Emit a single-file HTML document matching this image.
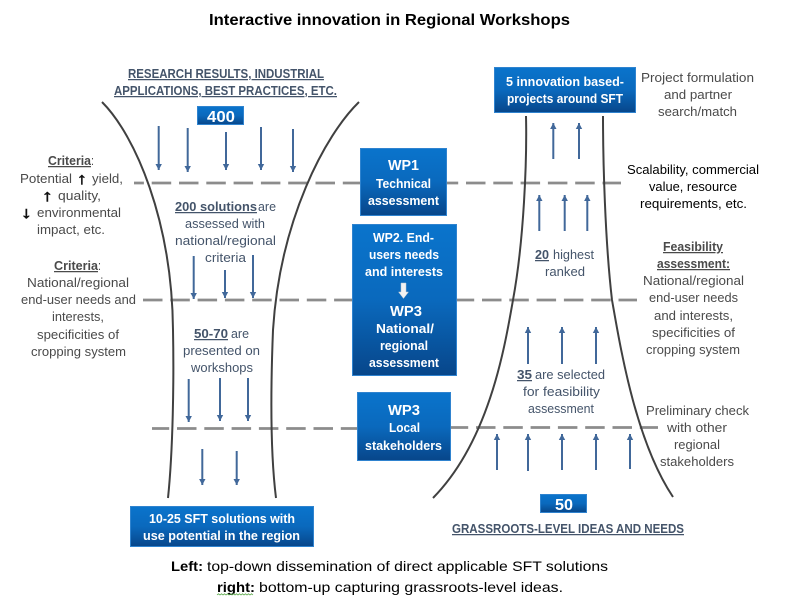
<!DOCTYPE html>
<html><head><meta charset="utf-8"><title>Interactive innovation in Regional Workshops</title>
<style>
html,body{margin:0;padding:0;background:#fff}
svg{display:block}
text{font-family:"Liberation Sans",sans-serif;font-size:12.5px;fill:#4a4a4a}
.c{fill:#44546a}
.k{fill:#000}
.b{font-weight:bold}
.u{text-decoration:underline}
.h{font-weight:bold;fill:#44546a;text-decoration:underline;font-size:12.5px}
.w{fill:#fff;font-weight:bold;font-size:12.5px}
.wl{fill:#fff;font-weight:bold;font-size:15px}
.ar{font-weight:bold;fill:#111;font-size:16px;stroke:#111;stroke-width:.6px}
</style></head><body>
<svg width="790" height="613" viewBox="0 0 790 613" xmlns="http://www.w3.org/2000/svg">
<defs>
<linearGradient id="g" x1="0" y1="0" x2="0" y2="1"><stop offset="0" stop-color="#0a74cc"/><stop offset=".5" stop-color="#0a69bd"/><stop offset="1" stop-color="#07468a"/></linearGradient>
<marker id="a" markerUnits="userSpaceOnUse" markerWidth="8" markerHeight="8" refX="6" refY="4" orient="auto"><path d="M0,0.800 L6,4 L0,7.200 Z" fill="#41689a"/></marker>
</defs>
<rect width="790" height="613" fill="#fff"/>

<g fill="none" stroke="#8c8c8c" stroke-width="2.800" stroke-dasharray="19.500 7.800">
<path d="M134,183H360" stroke-dashoffset="9.600"/>
<path d="M447,183H621" stroke-dashoffset="8.300"/>
<path d="M143,300H352"/>
<path d="M457,300H637" stroke-dashoffset="2.300"/>
<path d="M152,428.500H358" stroke-dashoffset="2.300"/>
<path d="M451,427.500H658" stroke-dashoffset="2.300"/>
</g>

<g fill="none" stroke="#404040" stroke-width="2">
<path d="M102,102C135,135 172,220 173,330C174,380 173,450 168,498"/>
<path d="M359,102C325,135 280,220 273,330C271,380 270,450 276,498"/>
<path d="M526,116C527,160 524,240 513,300C505,345 490,440 433,498"/>
<path d="M603,116C603,160 605,240 612,300C620,345 635,440 673,497"/>
</g>

<g stroke="#41689a" stroke-width="2">
<line x1="158.700" y1="126" x2="158.700" y2="170" marker-end="url(#a)"/>
<line x1="187.700" y1="128" x2="187.700" y2="172" marker-end="url(#a)"/>
<line x1="226" y1="132" x2="226" y2="170" marker-end="url(#a)"/>
<line x1="261" y1="127" x2="261" y2="170" marker-end="url(#a)"/>
<line x1="293" y1="129" x2="293" y2="172" marker-end="url(#a)"/>
<line x1="193.700" y1="256" x2="193.700" y2="299" marker-end="url(#a)"/>
<line x1="225" y1="270" x2="225" y2="298" marker-end="url(#a)"/>
<line x1="253" y1="255" x2="253" y2="298" marker-end="url(#a)"/>
<line x1="188.700" y1="379" x2="188.700" y2="422" marker-end="url(#a)"/>
<line x1="220" y1="378" x2="220" y2="421" marker-end="url(#a)"/>
<line x1="248" y1="378" x2="248" y2="421" marker-end="url(#a)"/>
<line x1="202.300" y1="449" x2="202.300" y2="485" marker-end="url(#a)"/>
<line x1="236.700" y1="451" x2="236.700" y2="485" marker-end="url(#a)"/>
<line x1="553.300" y1="159" x2="553.300" y2="123" marker-end="url(#a)"/>
<line x1="579" y1="159" x2="579" y2="123" marker-end="url(#a)"/>
<line x1="539.300" y1="231" x2="539.300" y2="195" marker-end="url(#a)"/>
<line x1="564.700" y1="231" x2="564.700" y2="195" marker-end="url(#a)"/>
<line x1="587.300" y1="231" x2="587.300" y2="195" marker-end="url(#a)"/>
<line x1="528" y1="364" x2="528" y2="327" marker-end="url(#a)"/>
<line x1="562" y1="364" x2="562" y2="327" marker-end="url(#a)"/>
<line x1="596" y1="364" x2="596" y2="327" marker-end="url(#a)"/>
<line x1="497" y1="470" x2="497" y2="434" marker-end="url(#a)"/>
<line x1="528" y1="471" x2="528" y2="434" marker-end="url(#a)"/>
<line x1="562" y1="470" x2="562" y2="434" marker-end="url(#a)"/>
<line x1="596" y1="470" x2="596" y2="434" marker-end="url(#a)"/>
<line x1="630" y1="469" x2="630" y2="434" marker-end="url(#a)"/>
</g>

<g fill="url(#g)" stroke="#2f83cf" stroke-width="1">
<rect x="360.500" y="148.500" width="86" height="67"/>
<rect x="352.500" y="224.500" width="104" height="151"/>
<rect x="357.500" y="392.500" width="93" height="68"/>
<rect x="197.500" y="106.500" width="46" height="18"/>
<rect x="494.500" y="67.500" width="141" height="45"/>
<rect x="130.500" y="506.500" width="183" height="40"/>
<rect x="540.500" y="494.500" width="46" height="18"/>
</g>
<path d="M401,283H406V292H408.500L403.500,298.500L398.500,292H401Z" fill="#f2f2f2" stroke="#b8c4d0" stroke-width=".5"/>

<text x="209" y="25" textLength="361" lengthAdjust="spacingAndGlyphs" class="k b" style="font-size:15.500px">Interactive innovation in Regional Workshops</text>

<text x="128" y="78" textLength="196" lengthAdjust="spacingAndGlyphs" class="h">RESEARCH RESULTS, INDUSTRIAL</text>
<text x="114" y="95" textLength="223" lengthAdjust="spacingAndGlyphs" class="h">APPLICATIONS, BEST PRACTICES, ETC.</text>
<text x="207" y="122" textLength="28" lengthAdjust="spacingAndGlyphs" class="wl" style="font-size:16px">400</text>

<text x="48" y="165" textLength="43" lengthAdjust="spacingAndGlyphs" class="b u">Criteria</text><text x="91" y="165" textLength="3" lengthAdjust="spacingAndGlyphs">:</text>
<text x="20" y="183" textLength="52" lengthAdjust="spacingAndGlyphs">Potential</text>
<text x="77" y="184" textLength="10" lengthAdjust="spacingAndGlyphs" class="ar">↑</text>
<text x="92" y="183" textLength="31" lengthAdjust="spacingAndGlyphs">yield,</text>
<text x="42" y="201" textLength="11" lengthAdjust="spacingAndGlyphs" class="ar">↑</text>
<text x="58" y="200" textLength="43" lengthAdjust="spacingAndGlyphs">quality,</text>
<text x="21" y="218" textLength="11" lengthAdjust="spacingAndGlyphs" class="ar">↓</text>
<text x="37" y="217" textLength="84" lengthAdjust="spacingAndGlyphs">environmental</text>
<text x="37" y="234" textLength="68" lengthAdjust="spacingAndGlyphs">impact, etc.</text>

<text x="54" y="270" textLength="44" lengthAdjust="spacingAndGlyphs" class="b u">Criteria</text><text x="98" y="270" textLength="3" lengthAdjust="spacingAndGlyphs">:</text>
<text x="27" y="287" textLength="102" lengthAdjust="spacingAndGlyphs">National/regional</text>
<text x="21" y="304" textLength="115" lengthAdjust="spacingAndGlyphs">end-user needs and</text>
<text x="52" y="321" textLength="52" lengthAdjust="spacingAndGlyphs">interests,</text>
<text x="37" y="339" textLength="82" lengthAdjust="spacingAndGlyphs">specificities of</text>
<text x="31" y="356" textLength="95" lengthAdjust="spacingAndGlyphs">cropping system</text>

<text x="175" y="211" textLength="82" lengthAdjust="spacingAndGlyphs" class="c b u">200 solutions</text>
<text x="258" y="211" textLength="18" lengthAdjust="spacingAndGlyphs" class="c">are</text>
<text x="185" y="228" textLength="80" lengthAdjust="spacingAndGlyphs" class="c">assessed with</text>
<text x="175" y="245" textLength="101" lengthAdjust="spacingAndGlyphs" class="c">national/regional</text>
<text x="205" y="262" textLength="41" lengthAdjust="spacingAndGlyphs" class="c">criteria</text>

<text x="194" y="338" textLength="34" lengthAdjust="spacingAndGlyphs" class="c b u">50-70</text>
<text x="231" y="338" textLength="18" lengthAdjust="spacingAndGlyphs" class="c">are</text>
<text x="183" y="355" textLength="77" lengthAdjust="spacingAndGlyphs" class="c">presented on</text>
<text x="191" y="372" textLength="62" lengthAdjust="spacingAndGlyphs" class="c">workshops</text>

<text x="388" y="170" textLength="31" lengthAdjust="spacingAndGlyphs" class="wl">WP1</text>
<text x="376" y="188" textLength="55" lengthAdjust="spacingAndGlyphs" class="w">Technical</text>
<text x="368" y="205" textLength="71" lengthAdjust="spacingAndGlyphs" class="w">assessment</text>

<text x="373" y="242" textLength="61" lengthAdjust="spacingAndGlyphs" class="w">WP2. End-</text>
<text x="369" y="259" textLength="70" lengthAdjust="spacingAndGlyphs" class="w">users needs</text>
<text x="365" y="276" textLength="78" lengthAdjust="spacingAndGlyphs" class="w">and interests</text>
<text x="390" y="316" textLength="32" lengthAdjust="spacingAndGlyphs" class="wl">WP3</text>
<text x="376" y="333" textLength="58" lengthAdjust="spacingAndGlyphs" class="w">National/</text>
<text x="380" y="350" textLength="48" lengthAdjust="spacingAndGlyphs" class="w">regional</text>
<text x="369" y="367" textLength="70" lengthAdjust="spacingAndGlyphs" class="w">assessment</text>

<text x="388" y="415" textLength="32" lengthAdjust="spacingAndGlyphs" class="wl">WP3</text>
<text x="389" y="432" textLength="31" lengthAdjust="spacingAndGlyphs" class="w">Local</text>
<text x="365" y="450" textLength="77" lengthAdjust="spacingAndGlyphs" class="w">stakeholders</text>

<text x="506" y="86" textLength="118" lengthAdjust="spacingAndGlyphs" class="w">5 innovation based-</text>
<text x="507" y="103" textLength="116" lengthAdjust="spacingAndGlyphs" class="w">projects around SFT</text>

<text x="641" y="82" textLength="113" lengthAdjust="spacingAndGlyphs">Project formulation</text>
<text x="664" y="99" textLength="68" lengthAdjust="spacingAndGlyphs">and partner</text>
<text x="658" y="116" textLength="79" lengthAdjust="spacingAndGlyphs">search/match</text>

<text x="627" y="174" textLength="132" lengthAdjust="spacingAndGlyphs" class="k">Scalability, commercial</text>
<text x="649" y="191" textLength="88" lengthAdjust="spacingAndGlyphs" class="k">value, resource</text>
<text x="640" y="208" textLength="107" lengthAdjust="spacingAndGlyphs" class="k">requirements, etc.</text>

<text x="535" y="259" textLength="14" lengthAdjust="spacingAndGlyphs" class="c b u">20</text>
<text x="553" y="259" textLength="41" lengthAdjust="spacingAndGlyphs" class="c">highest</text>
<text x="545" y="276" textLength="40" lengthAdjust="spacingAndGlyphs" class="c">ranked</text>

<text x="663" y="251" textLength="60" lengthAdjust="spacingAndGlyphs" class="b u">Feasibility</text>
<text x="657" y="268" textLength="73" lengthAdjust="spacingAndGlyphs" class="b u">assessment:</text>
<text x="643" y="285" textLength="101" lengthAdjust="spacingAndGlyphs">National/regional</text>
<text x="649" y="302" textLength="89" lengthAdjust="spacingAndGlyphs">end-user needs</text>
<text x="654" y="320" textLength="79" lengthAdjust="spacingAndGlyphs">and interests,</text>
<text x="652" y="337" textLength="83" lengthAdjust="spacingAndGlyphs">specificities of</text>
<text x="646" y="354" textLength="94" lengthAdjust="spacingAndGlyphs">cropping system</text>

<text x="517" y="379" textLength="15" lengthAdjust="spacingAndGlyphs" class="c b u">35</text>
<text x="535" y="379" textLength="70" lengthAdjust="spacingAndGlyphs" class="c">are selected</text>
<text x="523" y="396" textLength="77" lengthAdjust="spacingAndGlyphs" class="c">for feasibility</text>
<text x="528" y="413" textLength="66" lengthAdjust="spacingAndGlyphs" class="c">assessment</text>

<text x="646" y="415" textLength="103" lengthAdjust="spacingAndGlyphs">Preliminary check</text>
<text x="667" y="432" textLength="60" lengthAdjust="spacingAndGlyphs">with other</text>
<text x="674" y="449" textLength="46" lengthAdjust="spacingAndGlyphs">regional</text>
<text x="660" y="466" textLength="74" lengthAdjust="spacingAndGlyphs">stakeholders</text>

<text x="555" y="510" textLength="18" lengthAdjust="spacingAndGlyphs" class="wl" style="font-size:16px">50</text>
<text x="452" y="533" textLength="232" lengthAdjust="spacingAndGlyphs" class="h">GRASSROOTS-LEVEL IDEAS AND NEEDS</text>

<text x="149" y="523" textLength="146" lengthAdjust="spacingAndGlyphs" class="w">10-25 SFT solutions with</text>
<text x="143" y="540" textLength="157" lengthAdjust="spacingAndGlyphs" class="w">use potential in the region</text>

<text x="171" y="571" textLength="32" lengthAdjust="spacingAndGlyphs" class="k b" style="font-size:14px">Left:</text>
<text x="207" y="571" textLength="401" lengthAdjust="spacingAndGlyphs" class="k" style="font-size:14px">top-down dissemination of direct applicable SFT solutions</text>
<text x="217" y="592" textLength="38" lengthAdjust="spacingAndGlyphs" class="k b" style="font-size:14px">right:</text>
<text x="259" y="592" textLength="304" lengthAdjust="spacingAndGlyphs" class="k" style="font-size:14px">bottom-up capturing grassroots-level ideas.</text>
<path d="M217,595l1.500,-1.200l1.500,1.200l1.500,-1.200l1.500,1.200l1.500,-1.200l1.500,1.200l1.500,-1.200l1.500,1.200l1.500,-1.200l1.500,1.200l1.500,-1.200l1.500,1.200l1.500,-1.200l1.500,1.200l1.500,-1.200l1.500,1.200l1.500,-1.200l1.500,1.200l1.500,-1.200l1.500,1.200l1.500,-1.200l1.500,1.200l1.500,-1.200l1.500,1.200" fill="none" stroke="#5aa84a" stroke-width=".8"/>
</svg>
</body></html>
